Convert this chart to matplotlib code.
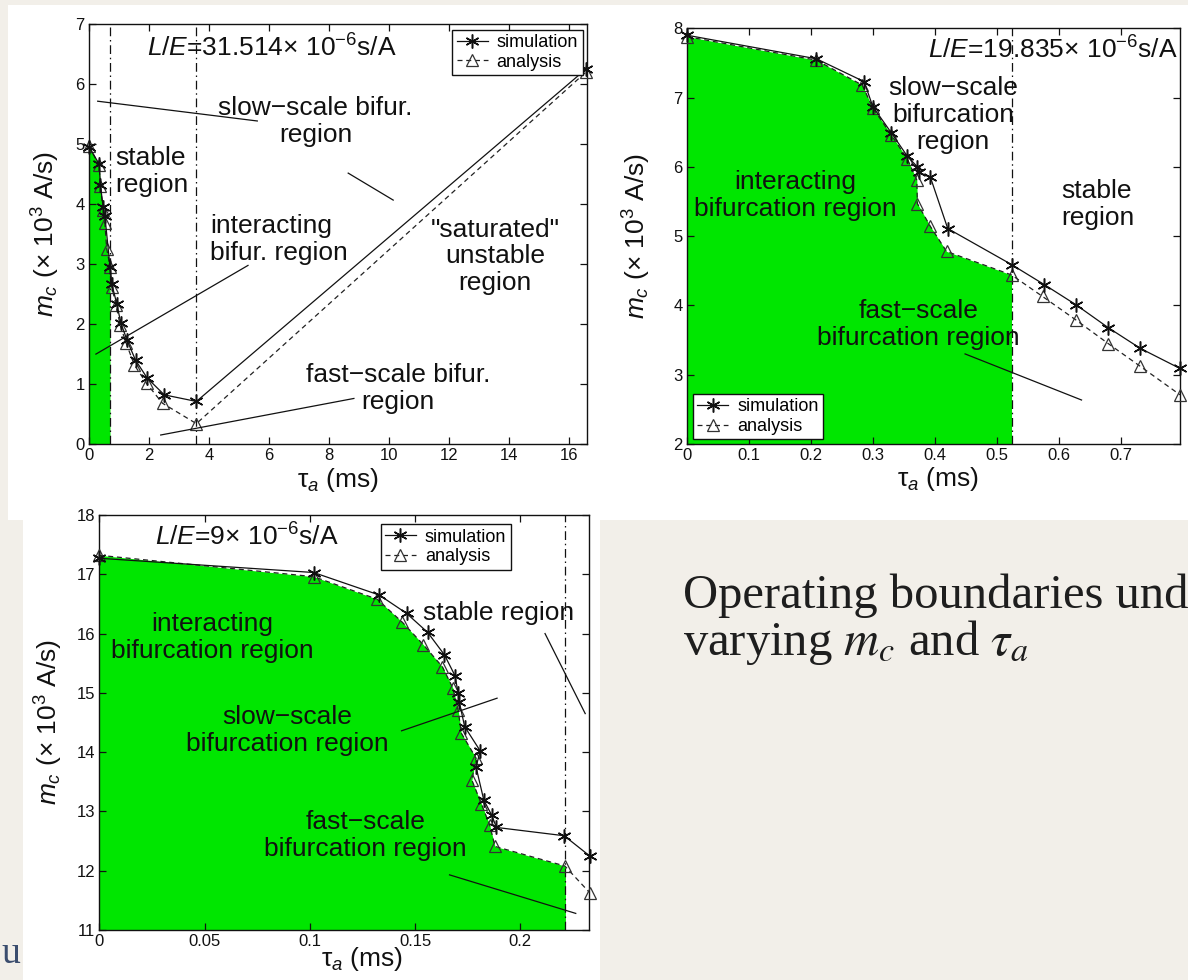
import numpy as np
import matplotlib
matplotlib.use("Agg")
import matplotlib.pyplot as plt
from matplotlib.patches import Rectangle

# ---------------- data ----------------
# Panel 1 : L/E = 31.514e-6 s/A
p1_sim_x = [0, 0.34, 0.38, 0.47, 0.53, 0.70, 0.76, 0.93, 1.06, 1.27, 1.55, 1.94, 2.51, 3.58, 16.55]
p1_sim_y = [4.96, 4.67, 4.32, 3.96, 3.80, 2.96, 2.67, 2.33, 2.02, 1.73, 1.40, 1.10, 0.82, 0.71, 6.25]
p1_ana_x = [0, 0.34, 0.38, 0.47, 0.53, 0.59, 0.70, 0.76, 0.90, 1.04, 1.24, 1.51, 1.92, 2.45, 3.58, 16.55]
p1_ana_y = [4.97, 4.65, 4.30, 3.91, 3.68, 3.26, 2.96, 2.62, 2.32, 1.98, 1.68, 1.32, 1.01, 0.68, 0.34, 6.20]
p1_bounds = [0.70, 3.58]
p1_xticks = [0, 2, 4, 6, 8, 10, 12, 14, 16]
p1_yticks = [0, 1, 2, 3, 4, 5, 6, 7]

# Panel 2 : L/E = 19.835e-6 s/A
p2_sim_x = [0, 0.209, 0.286, 0.300, 0.330, 0.356, 0.372, 0.374, 0.393, 0.421, 0.524, 0.577, 0.628, 0.680, 0.732, 0.796]
p2_sim_y = [7.90, 7.56, 7.23, 6.87, 6.49, 6.15, 6.00, 5.92, 5.85, 5.11, 4.59, 4.30, 4.01, 3.68, 3.38, 3.09]
p2_ana_x = [0, 0.209, 0.283, 0.300, 0.330, 0.356, 0.371, 0.372, 0.393, 0.419, 0.524, 0.574, 0.628, 0.680, 0.732, 0.796]
p2_ana_y = [7.88, 7.54, 7.18, 6.85, 6.46, 6.11, 5.81, 5.47, 5.14, 4.78, 4.44, 4.13, 3.79, 3.45, 3.12, 2.71]
p2_bounds = [0.524]
p2_xticks = [0, 0.1, 0.2, 0.3, 0.4, 0.5, 0.6, 0.7]
p2_xticklabels = ["0", "0.1", "0.2", "0.3", "0.4", "0.5", "0.6", "0.7"]
p2_yticks = [2, 3, 4, 5, 6, 7, 8]

# Panel 3 : L/E = 9e-6 s/A
p3_sim_x = [0, 0.1018, 0.133, 0.146, 0.156, 0.164, 0.169, 0.1705, 0.171, 0.1736, 0.181, 0.179, 0.1827, 0.1864, 0.1887, 0.2209, 0.2330]
p3_sim_y = [17.27, 17.03, 16.65, 16.34, 16.02, 15.64, 15.29, 14.99, 14.85, 14.43, 14.02, 13.75, 13.19, 12.94, 12.73, 12.59, 12.25]
p3_ana_x = [0, 0.1018, 0.132, 0.144, 0.154, 0.163, 0.168, 0.1705, 0.172, 0.179, 0.177, 0.1815, 0.1855, 0.188, 0.2212, 0.2330]
p3_ana_y = [17.32, 16.96, 16.58, 16.19, 15.81, 15.44, 15.08, 14.71, 14.32, 13.90, 13.53, 13.13, 12.77, 12.41, 12.08, 11.63]
p3_bounds = [0.2215]
p3_xticks = [0, 0.05, 0.1, 0.15, 0.2]
p3_xticklabels = ["0", "0.05", "0.1", "0.15", "0.2"]
p3_yticks = [11, 12, 13, 14, 15, 16, 17, 18]

legend_labels = ["simulation", "analysis"]

# ---------------- style ----------------
plt.rcParams["font.family"] = ["Liberation Sans", "DejaVu Sans"]
plt.rcParams["mathtext.fontset"] = "custom"
plt.rcParams["mathtext.rm"] = "Liberation Sans"
plt.rcParams["mathtext.it"] = "Liberation Sans:italic"
plt.rcParams["mathtext.bf"] = "Liberation Sans:bold"

W, H = 1188, 980
BG = "#f2efe9"
GREEN = "#00e600"
INK = "#111111"
REG_FS = 19
TICK_FS = 12
LAB_FS = 19
LEG_FS = 13

fig = plt.figure(figsize=(W / 100, H / 100), dpi=100, facecolor=BG)


def frac(x0, y0, x1, y1):
    return [x0 / W, 1 - y1 / H, (x1 - x0) / W, (y1 - y0) / H]


for (x0, y0, x1, y1) in [(8, 5, 1188, 520), (23, 512, 600, 980)]:
    r = frac(x0, y0, x1, y1)
    fig.add_artist(Rectangle((r[0], r[1]), r[2], r[3], transform=fig.transFigure,
                             facecolor="white", edgecolor="none", zorder=-10))

ax1 = fig.add_axes(frac(89, 24.5, 587, 444))
ax2 = fig.add_axes(frac(687, 28.3, 1180, 444))
ax3 = fig.add_axes(frac(99.5, 515, 589, 930))

DASHDOT = (0, (7, 3, 1.2, 3))


def clip_curve(x, y, b):
    x = np.asarray(x, float)
    y = np.asarray(y, float)
    i = int(np.nonzero(x >= b)[0][0])
    t = (b - x[i - 1]) / (x[i] - x[i - 1])
    yb = y[i - 1] + t * (y[i] - y[i - 1])
    return np.r_[x[:i], b], np.r_[y[:i], yb]


def draw_panel(ax, sx, sy, axx, ay, bounds, xlim, ylim, xticks, xticklabels, yticks):
    ax.set_xlim(*xlim)
    ax.set_ylim(*ylim)
    fx, fy = clip_curve(axx, ay, bounds[0])
    ax.fill_between(fx, fy, ylim[0], color=GREEN, lw=0, zorder=1)
    for b in bounds:
        ax.axvline(b, color=INK, lw=0.9, ls=DASHDOT, zorder=2)
    hs, = ax.plot(sx, sy, color=INK, lw=0.9, marker=(6, 2, 0), ms=10, mew=1.1,
                  zorder=4, clip_on=False)
    ha, = ax.plot(axx, ay, color="#222222", lw=0.9, ls=(0, (4, 3)), marker="^", ms=9,
                  mfc="none", mec="#333333", mew=0.9, zorder=3, clip_on=False)
    ax.set_xticks(xticks)
    ax.set_xticklabels(xticklabels)
    ax.set_yticks(yticks)
    ax.set_yticklabels([str(v) for v in yticks])
    ax.tick_params(direction="in", top=True, right=True, length=5, width=0.9,
                   labelsize=TICK_FS, pad=3, colors=INK)
    for s in ax.spines.values():
        s.set_linewidth(1.0)
        s.set_color(INK)
    ax.set_facecolor("white")
    ax.set_ylabel(r"$m_c$ (× 10$^3$ A/s)", fontsize=LAB_FS, va="center", color=INK)
    ax.set_xlabel(r"τ$_a$ (ms)", fontsize=LAB_FS, va="baseline", color=INK)
    return hs, ha


def add_legend(ax, handles, anchor, loc):
    leg = ax.legend(handles, legend_labels, loc=loc, bbox_to_anchor=anchor,
                    fontsize=LEG_FS, frameon=True, fancybox=False, edgecolor=INK,
                    framealpha=1, borderpad=0.25, labelspacing=0.15, handlelength=1.7,
                    handletextpad=0.5, borderaxespad=0)
    leg.get_frame().set_linewidth(1.0)
    leg.set_zorder(6)


def add_texts(ax, items):
    for (s, x, y, ha_) in items:
        ax.text(x, y, s, fontsize=REG_FS, ha=ha_, va="center",
                multialignment="center" if ha_ == "center" else "left",
                color=INK, linespacing=1.15, zorder=5)


# ---------------- panel 1 ----------------
h = draw_panel(ax1, p1_sim_x, p1_sim_y, p1_ana_x, p1_ana_y, p1_bounds, (0, 16.6), (0, 7),
               p1_xticks, [str(v) for v in p1_xticks], p1_yticks)
add_legend(ax1, h, (0.991, 0.988), "upper right")
ax1.yaxis.set_label_coords(-0.086, 0.5)
ax1.xaxis.set_label_coords(0.5, -0.102)
for (x0, y0, x1, y1) in [(0.29, 5.72, 5.61, 5.39), (8.64, 4.52, 10.14, 4.07),
                         (0.23, 1.50, 5.30, 2.98), (2.39, 0.15, 8.83, 0.76)]:
    ax1.plot([x0, x1], [y0, y1], color=INK, lw=0.9, zorder=5)
add_texts(ax1, [(r"$L/E$=31.514× 10$^{-6}$s/A", 1.92, 6.6, "left"),
                ("slow−scale bifur.\nregion", 7.55, 5.38, "center"),
                ("stable\nregion", 0.87, 4.54, "left"),
                ("interacting\nbifur. region", 4.05, 3.41, "left"),
                ('"saturated"\nunstable\nregion', 13.54, 3.13, "center"),
                ("fast−scale bifur.\nregion", 10.3, 0.93, "center")])

# ---------------- panel 2 ----------------
h = draw_panel(ax2, p2_sim_x, p2_sim_y, p2_ana_x, p2_ana_y, p2_bounds, (0, 0.796), (2, 8),
               p2_xticks, p2_xticklabels, p2_yticks)
add_legend(ax2, h, (0.012, 0.011), "lower left")
ax2.yaxis.set_label_coords(-0.101, 0.5)
ax2.xaxis.set_label_coords(0.51, -0.102)
ax2.plot([0.449, 0.637], [3.30, 2.635], color=INK, lw=0.9, zorder=5)
add_texts(ax2, [(r"$L/E$=19.835× 10$^{-6}$s/A", 0.389, 7.69, "left"),
                ("slow−scale\nbifurcation\nregion", 0.43, 6.75, "center"),
                ("interacting\nbifurcation region", 0.175, 5.59, "center"),
                ("stable\nregion", 0.605, 5.46, "left"),
                ("fast−scale\nbifurcation region", 0.374, 3.73, "center")])

# ---------------- panel 3 ----------------
h = draw_panel(ax3, p3_sim_x, p3_sim_y, p3_ana_x, p3_ana_y, p3_bounds, (0, 0.2327), (11, 18),
               p3_xticks, p3_xticklabels, p3_yticks)
add_legend(ax3, h, (0.84, 0.978), "upper right")
ax3.yaxis.set_label_coords(-0.103, 0.5)
ax3.xaxis.set_label_coords(0.536, -0.087)
for (x0, y0, x1, y1) in [(0.1436, 14.36, 0.189, 14.91), (0.1664, 11.93, 0.2264, 11.28),
                         (0.2118, 16.0, 0.2309, 14.65)]:
    ax3.plot([x0, x1], [y0, y1], color=INK, lw=0.9, zorder=5)
add_texts(ax3, [(r"$L/E$=9× 10$^{-6}$s/A", 0.0264, 17.63, "left"),
                ("interacting\nbifurcation region", 0.0536, 15.94, "center"),
                ("slow−scale\nbifurcation region", 0.0891, 14.37, "center"),
                ("stable region", 0.1536, 16.34, "left"),
                ("fast−scale\nbifurcation region", 0.1264, 12.60, "center")])

# ---------------- slide text ----------------
fig.text(683 / W, 1 - 608 / H, "Operating boundaries under", fontsize=35,
         family=["Liberation Serif", "DejaVu Serif"], color="#1e1e1e", va="baseline", ha="left")
fig.text(683 / W, 1 - 655 / H, r"varying $m_c$ and $\tau_a$", fontsize=35,
         family=["Liberation Serif", "DejaVu Serif"], math_fontfamily="stix",
         color="#1e1e1e", va="baseline", ha="left")
fig.text(1 / W, 1 - 963 / H, "u", fontsize=27, family=["Liberation Serif", "DejaVu Serif"],
         color="#3b4d6e", va="baseline", ha="left")

fig.savefig("out.png", dpi=100, facecolor=BG)
